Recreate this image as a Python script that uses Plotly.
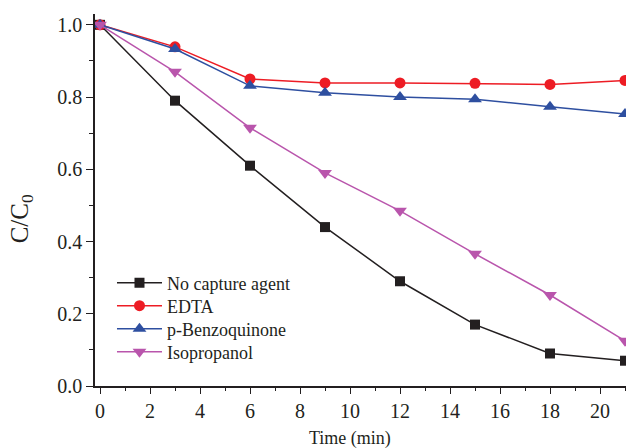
import plotly.graph_objects as go

time_min = [0, 3, 6, 9, 12, 15, 18, 21]
no_capture = [1.0, 0.79, 0.61, 0.44, 0.29, 0.17, 0.09, 0.07]
edta = [1.0, 0.939, 0.85, 0.839, 0.839, 0.838, 0.835, 0.846]
benzoquinone = [1.0, 0.933, 0.831, 0.812, 0.80, 0.794, 0.773, 0.753]
isopropanol = [1.0, 0.87, 0.715, 0.59, 0.485, 0.366, 0.252, 0.125]

series = [
    ("No capture agent", no_capture, "#231f20", "square", 10),
    ("EDTA", edta, "#ed1c24", "circle", 11),
    ("p-Benzoquinone", benzoquinone, "#2e4fa0", "triangle-up", 12),
    ("Isopropanol", isopropanol, "#b955ac", "triangle-down", 12),
]

font = "Liberation Serif"
legend_ids = ["legend", "legend2", "legend3", "legend4"]
legend_y = [0.277, 0.215, 0.153, 0.091]

fig = go.Figure()
for (name, ys, col, sym, msize), lid in zip(series, legend_ids):
    fig.add_trace(go.Scatter(
        x=time_min, y=ys, name=name, mode="lines+markers",
        line=dict(color=col, width=1.5),
        marker=dict(symbol=sym, size=msize, color=col, line=dict(width=0)),
        cliponaxis=False, legend=lid,
    ))

legend_common = dict(x=0.032, xanchor="left", yanchor="middle",
                     font=dict(family=font, size=18, color="#231f20"),
                     bgcolor="rgba(0,0,0,0)", itemwidth=45)
legends = {lid: dict(legend_common, y=ly) for lid, ly in zip(legend_ids, legend_y)}

xr = [-0.2, 21.04]
fig.update_layout(
    width=626, height=448,
    margin=dict(l=95, r=0, t=14, b=62),
    paper_bgcolor="white", plot_bgcolor="white",
    font=dict(family=font, color="#231f20"),
    showlegend=True,
    **legends,
    xaxis=dict(range=xr, showgrid=False, zeroline=False,
               showline=True, linecolor="#231f20", linewidth=1.5,
               ticks="outside", ticklen=6, tickwidth=1.2, tickcolor="#231f20",
               dtick=2, tick0=0,
               minor=dict(ticks="outside", ticklen=3, dtick=1, tick0=0, tickcolor="#231f20"),
               tickfont=dict(family=font, size=20)),
    xaxis2=dict(range=xr, overlaying="x", side="top", showgrid=False, zeroline=False,
                showline=True, linecolor="#231f20", linewidth=1.5,
                ticks="inside", ticklen=3, tickwidth=1, tickcolor="#231f20",
                dtick=2, tick0=0, showticklabels=False,
                minor=dict(ticks="inside", ticklen=2, dtick=1, tick0=0, tickcolor="#231f20")),
    yaxis=dict(range=[0, 1.03], showgrid=False, zeroline=False,
               showline=True, linecolor="#231f20", linewidth=1.5,
               ticks="outside", ticklen=7, tickwidth=1.2, tickcolor="#231f20",
               dtick=0.2, tick0=0, tickformat=".1f",
               minor=dict(ticks="outside", ticklen=4, dtick=0.1, tick0=0, tickcolor="#231f20"),
               tickfont=dict(family=font, size=20)),
    annotations=[
        dict(text="Time (min)", xref="paper", yref="paper", x=0.48, y=-0.14,
             xanchor="center", yanchor="middle", showarrow=False,
             font=dict(family=font, size=18, color="#231f20")),
        dict(text="C/C<sub>0</sub>", xref="paper", yref="paper", x=-0.138, y=0.45,
             xanchor="center", yanchor="middle", textangle=-90, showarrow=False,
             font=dict(family=font, size=25, color="#231f20")),
    ],
)
fig.write_html("out.html")
